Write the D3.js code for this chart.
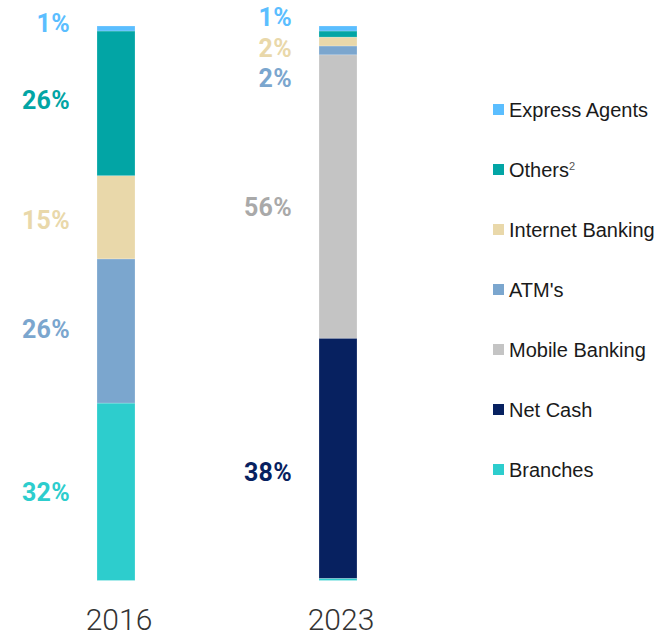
<!DOCTYPE html>
<html>
<head>
<meta charset="utf-8">
<script src="https://cdn.jsdelivr.net/npm/d3@7"></script>
<style>
  html, body { margin: 0; padding: 0; background: #fff; }
  svg { display: block; }
</style>
</head>
<body>
<svg id="chart" width="659" height="638"></svg>
<script>
// ---- data ----
const years = ["2016", "2023"];
const channels = ["Branches", "Net Cash", "Mobile Banking", "ATM's", "Internet Banking", "Others", "Express Agents"];
const values2016 = [32.0, 0, 0, 26.0, 15.0, 26.1, 0.9];
const values2023 = [0.4, 43.3, 51.1, 1.6, 1.6, 1.1, 0.9];
const labels2016 = ["32%", "", "", "26%", "15%", "26%", "1%"];
const labels2023 = ["", "38%", "56%", "2%", "2%", "", "1%"];
const legendOrder = ["Express Agents", "Others", "Internet Banking", "ATM's", "Mobile Banking", "Net Cash", "Branches"];

// ---- style / layout ----
const colors = {
  "Express Agents": "#5BBEFF",
  "Others": "#02A5A5",
  "Internet Banking": "#E9D8AA",
  "ATM's": "#7BA6CE",
  "Mobile Banking": "#C4C4C4",
  "Net Cash": "#072160",
  "Branches": "#2DCDCD"
};
const labelColors = Object.assign({}, colors, { "Mobile Banking": "#A9A9A9" });
// label anchor positions on the value axis (percent from bottom)
const labelAnchor2016 = [16, null, null, 45.3, 65, 86.6, 100.5];
const labelAnchor2023 = [null, 19.6, 67.4, 90.6, 96.1, null, 101.7];

const svg = d3.select("#chart");
const rows = years.map((y, i) => {
  const vals = i === 0 ? values2016 : values2023;
  const o = { year: y };
  channels.forEach((c, j) => o[c] = vals[j]);
  return o;
});
const series = d3.stack().keys(channels)(rows);

const x = d3.scalePoint().domain(years).range([116, 338]);
const y = d3.scaleLinear().domain([0, 100]).range([580.5, 26]);
const barW = 38;

const g = svg.append("g");
g.selectAll("g.series")
  .data(series)
  .join("g")
  .attr("class", "series")
  .attr("fill", d => colors[d.key])
  .selectAll("rect")
  .data(d => d.map(p => ({ p, key: d.key })))
  .join("rect")
  .filter(d => d.p[1] - d.p[0] > 0)
  .attr("x", d => x(d.p.data.year) - barW / 2)
  .attr("width", barW)
  .attr("y", d => y(d.p[1]))
  .attr("height", d => y(d.p[0]) - y(d.p[1]))
  .attr("stroke", "#ffffff")
  .attr("stroke-opacity", 0.35)
  .attr("stroke-width", 0.6);

// percentage labels
const labelData = [];
years.forEach((yr, i) => {
  const labs = i === 0 ? labels2016 : labels2023;
  const anch = i === 0 ? labelAnchor2016 : labelAnchor2023;
  channels.forEach((c, j) => {
    if (labs[j]) labelData.push({ yr, text: labs[j], key: c, v: anch[j] });
  });
});
g.selectAll("text.pct")
  .data(labelData)
  .join("text")
  .attr("class", "pct")
  .attr("x", d => x(d.yr) - 46)
  .attr("y", d => y(d.v))
  .attr("dy", "0.36em")
  .attr("text-anchor", "end")
  .attr("font-family", "Roboto, 'Open Sans', sans-serif")
  .attr("font-weight", 700)
  .attr("font-size", 25)
  .attr("letter-spacing", 0.3)
  .attr("fill", d => labelColors[d.key])
  .text(d => d.text);

// year axis labels
g.selectAll("text.year")
  .data(years)
  .join("text")
  .attr("class", "year")
  .attr("x", d => x(d) + 3)
  .attr("y", 630)
  .attr("text-anchor", "middle")
  .attr("font-family", "Roboto, 'Liberation Sans', sans-serif")
  .attr("font-weight", 300)
  .attr("font-size", 30)
  .attr("fill", "#333333")
  .text(d => d);

// legend
const ly = d3.scalePoint().domain(legendOrder).range([109.5, 469.5]);
const leg = svg.append("g").selectAll("g")
  .data(legendOrder)
  .join("g")
  .attr("transform", d => `translate(493,${ly(d)})`);
leg.append("rect")
  .attr("x", 0).attr("y", -5.5)
  .attr("width", 11).attr("height", 11)
  .attr("fill", d => colors[d]);
const lt = leg.append("text")
  .attr("x", 16)
  .attr("y", 0)
  .attr("dy", "0.36em")
  .attr("font-family", "'Liberation Sans', Arial, sans-serif")
  .attr("font-size", 20)
  .attr("fill", "#1a1a1a");
lt.append("tspan").text(d => d);
lt.filter(d => d === "Others").append("tspan")
  .attr("dy", "-0.6em")
  .attr("font-size", 11)
  .attr("fill", "#555")
  .text("2");
</script>
</body>
</html>
